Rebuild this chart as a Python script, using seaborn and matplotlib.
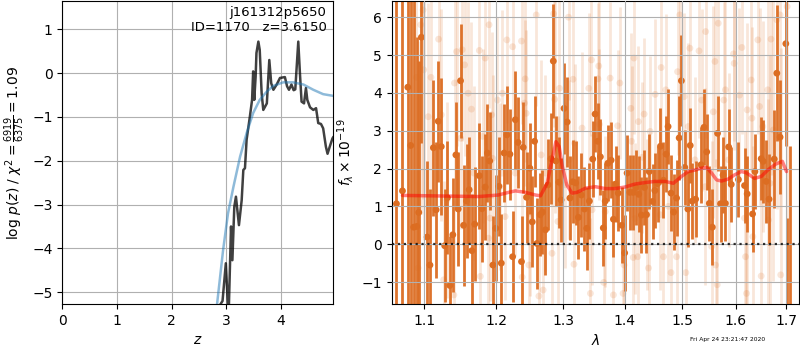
import pandas as pd
import seaborn as sns
import matplotlib.pyplot as plt
from matplotlib.ticker import FixedLocator, FixedFormatter, NullLocator

# ---- p(z) panel ----
z_chi = [2.80, 2.88, 2.93, 2.99, 3.04, 3.085, 3.11, 3.145, 3.175, 3.23, 3.28, 3.31, 3.34, 3.37,
         3.43, 3.47, 3.49, 3.51, 3.535, 3.55, 3.585, 3.61, 3.645, 3.675, 3.74, 3.785, 3.82, 3.86,
         3.92, 3.98, 4.07, 4.11, 4.145, 4.19, 4.23, 4.26, 4.315, 4.345, 4.375, 4.42, 4.455, 4.48,
         4.53, 4.59, 4.64, 4.68, 4.73, 4.77, 4.82, 4.85, 4.89, 4.94, 4.96]
logp_chi = [-7.0, -5.3, -5.2, -4.34, -5.6, -3.5, -4.27, -3.05, -2.82, -3.47, -2.9, -2.21, -2.17, -1.52,
            -0.99, -0.61, 0.04, -0.61, -0.08, 0.46, 0.72, 0.53, -0.46, -0.84, -0.69, 0.30, -0.23, -0.38,
            -0.26, -0.11, -0.09, -0.30, -0.38, -0.26, -0.39, -0.37, 0.72, 0.0, -0.65, -0.69, -0.34, -0.61,
            -0.78, -0.84, -0.80, -1.14, -1.16, -1.26, -1.68, -1.84, -1.68, -1.49, -1.45]
z_prior = [2.75, 2.83, 2.94, 3.03, 3.13, 3.25, 3.37, 3.49, 3.61, 3.74, 3.86, 4.04, 4.22, 4.41, 4.59, 4.77, 4.96]
logp_prior = [-6.5, -5.27, -4.04, -3.2, -2.59, -1.91, -1.37, -0.91, -0.61, -0.42, -0.29, -0.21, -0.21,
              -0.26, -0.38, -0.48, -0.52]

# ---- spectrum panel: binned (dark) points ----
wave_bin = [1.0641, 1.0718, 1.0787, 1.0825, 1.0864, 1.0904, 1.0930, 1.0965, 1.1041, 1.1078, 1.1124, 1.1161,
            1.1189, 1.1230, 1.1276, 1.1313, 1.1346, 1.1387, 1.1429, 1.1461, 1.1493, 1.1535, 1.1576, 1.1613,
            1.1650, 1.1691, 1.1756, 1.1793, 1.1839, 1.1871, 1.1903, 1.1949, 1.1991, 1.2035, 1.2070, 1.2111,
            1.2151, 1.2196, 1.2236, 1.2276, 1.2317, 1.2367, 1.2392, 1.2442, 1.2492, 1.2528, 1.2563, 1.2598,
            1.2648, 1.2683, 1.2729, 1.2769, 1.2814, 1.2849, 1.2889, 1.2935, 1.2970, 1.3016, 1.3065, 1.3108,
            1.3151, 1.3199, 1.3242, 1.3290, 1.3339, 1.3376, 1.3419, 1.3473, 1.3511, 1.3554, 1.3597, 1.3645,
            1.3677, 1.3720, 1.3774, 1.3812, 1.3849, 1.3892, 1.3952, 1.4000, 1.4041, 1.4087, 1.4145, 1.4192,
            1.4238, 1.4285, 1.4337, 1.4372, 1.4419, 1.4477, 1.4517, 1.4564, 1.4616, 1.4669, 1.4715, 1.4750,
            1.4802, 1.4849, 1.4901, 1.4948, 1.4988, 1.5049, 1.5105, 1.5148, 1.5185, 1.5247, 1.5346, 1.5401,
            1.5451, 1.5500, 1.5556, 1.5654, 1.5710, 1.5759, 1.5802, 1.5864, 1.5914, 1.6052, 1.6170, 1.6222,
            1.6327, 1.6373, 1.6497, 1.6536, 1.6595, 1.6654, 1.6758, 1.6810, 1.6876, 1.6993, 1.7021, 1.7073]
flux_bin = [1.07, 1.41, 4.15, 2.61, 0.45, 0.47, 0.84, 5.47, 0.19, -0.55, 2.55, 0.91,
            3.25, 2.58, -0.04, 1.23, -1.09, 0.25, 2.36, 0.93, 4.32, 0.50, 1.14, 1.44,
            -0.17, 0.53, 1.81, 0.94, 1.51, 2.41, 2.20, -0.55, 0.42, 1.53, -0.50, 2.41,
            2.89, 2.38, -0.33, 3.29, 2.69, -0.46, 2.56, 1.24, 2.01, 0.59, 2.72, 0.02,
            0.78, 0.85, 0.38, 1.57, 2.26, 4.84, 2.20, 1.64, 1.17, 3.59, 3.23, 1.22,
            1.65, 1.62, 0.71, 1.30, 0.93, 0.42, 1.14, 2.25, 3.44, 2.72, 2.31, 0.43,
            1.14, 2.14, 2.22, 0.66, 1.59, 1.35, 0.50, -0.23, 1.88, 1.37, 1.37, 1.50,
            1.32, 0.77, 1.50, 0.78, 1.92, 1.13, 1.42, 1.60, 2.59, 1.69, 2.38, 3.11,
            1.35, 0.85, 1.22, 2.81, 4.32, 2.03, 0.93, 2.61, 1.14, 1.19, 2.10, 3.09,
            2.44, 1.08, 0.45, 2.93, 1.07, 1.83, 1.08, 2.57, 1.58, 1.71, 1.55, 1.33,
            0.80, 1.92, 2.26, 2.19, 1.66, 1.19, 2.25, 4.52, 2.83, 5.30, -2.5, -2.5]
err_bin = [7.0, 7.0, 7.0, 6.0, 6.0, 5.0, 4.0, 2.8, 2.0, 2.0, 1.8, 1.8,
           1.6, 1.8, 1.5, 1.5, 1.3, 1.5, 1.4, 1.5, 1.5, 1.6, 1.5, 1.4,
           1.5, 1.5, 1.4, 1.4, 1.4, 1.3, 1.3, 1.3, 1.4, 1.3, 1.3, 1.3,
           1.3, 1.2, 1.2, 1.3, 1.2, 1.2, 1.2, 1.2, 1.2, 1.2, 1.2, 1.2,
           1.1, 1.1, 1.2, 1.2, 1.2, 1.5, 1.2, 1.2, 1.1, 1.2, 1.2, 1.1,
           1.1, 1.1, 1.1, 1.1, 1.1, 1.1, 1.0, 1.0, 1.0, 1.0, 1.0, 1.0,
           1.0, 1.0, 1.0, 1.0, 1.0, 1.0, 1.0, 1.0, 1.0, 1.0, 1.0, 1.0,
           1.0, 1.0, 1.0, 1.0, 1.0, 1.0, 1.0, 1.0, 1.0, 1.0, 1.0, 1.0,
           1.0, 1.0, 1.0, 1.1, 1.2, 1.0, 1.0, 1.0, 1.0, 1.0, 1.0, 1.0,
           1.0, 1.0, 1.0, 1.0, 1.0, 1.0, 1.0, 1.0, 1.0, 1.0, 1.0, 1.0,
           1.0, 1.0, 1.1, 1.1, 1.1, 1.2, 1.3, 1.8, 1.5, 2.7, 3.2, 5.1]

# ---- spectrum panel: unbinned (faint) points ----
wave_raw = [1.0899, 1.0921, 1.0956, 1.0987, 1.0995, 1.1055, 1.1092, 1.1194, 1.1230, 1.1263, 1.1309, 1.1401,
            1.1410, 1.1438, 1.1493, 1.1516, 1.1549, 1.1599, 1.1645, 1.1678, 1.1756, 1.1770, 1.1802, 1.1839,
            1.1885, 1.1894, 1.1908, 1.1931, 1.1945, 1.2015, 1.2050, 1.2085, 1.2126, 1.2151, 1.2236, 1.2276,
            1.2367, 1.2377, 1.2412, 1.2422, 1.2437, 1.2477, 1.2487, 1.2588, 1.2628, 1.2663, 1.2693, 1.2729,
            1.2829, 1.2854, 1.2869, 1.2920, 1.2945, 1.3032, 1.3086, 1.3097, 1.3156, 1.3172, 1.3183, 1.3301,
            1.3409, 1.3435, 1.3452, 1.3462, 1.3559, 1.3570, 1.3581, 1.3651, 1.3677, 1.3758, 1.3812, 1.3882,
            1.3919, 1.3973, 1.3989, 1.4105, 1.4116, 1.4145, 1.4157, 1.4174, 1.4221, 1.4233, 1.4302, 1.4331,
            1.4378, 1.4407, 1.4436, 1.4523, 1.4610, 1.4628, 1.4669, 1.4709, 1.4756, 1.4802, 1.4901, 1.4919,
            1.4959, 1.5037, 1.5068, 1.5111, 1.5142, 1.5235, 1.5309, 1.5358, 1.5420, 1.5432, 1.5543, 1.5574,
            1.5605, 1.5617, 1.5648, 1.5667, 1.5772, 1.5802, 1.5864, 1.5957, 1.5969, 1.6072, 1.6118, 1.6170,
            1.6190, 1.6209, 1.6222, 1.6301, 1.6314, 1.6333, 1.6431, 1.6464, 1.6497, 1.6529, 1.6627, 1.6641,
            1.6673, 1.6693, 1.6739, 1.6810, 1.6876, 1.6889, 1.7020]
flux_raw = [4.41, -0.63, 5.80, 6.19, 4.61, 3.37, 4.41, 5.42, 3.42, -0.94, 1.17, -1.34,
            4.26, 5.09, 2.80, 5.14, 4.74, 3.99, 3.57, 1.88, 5.12, -0.85, 2.85, 4.92,
            0.16, 5.80, 0.69, 3.42, 2.27, 3.81, 1.52, 3.99, 0.73, 5.40, 5.22, 1.88,
            5.37, -0.87, 3.73, 4.37, 3.46, -0.55, 0.82, 6.06, -1.37, 2.36, -1.21, 1.88,
            -0.24, 6.09, 3.83, 0.60, 4.12, 1.57, 6.00, 2.23, 4.36, -0.53, 2.67, 3.07,
            4.12, -1.30, 4.87, 0.91, 4.37, 4.71, 3.17, -1.01, 0.86, 4.39, -1.34, 3.13,
            4.26, -1.30, -0.55, 3.59, 2.72, -0.35, 4.92, 0.68, -0.33, 3.24, 2.30, 3.44,
            0.78, -0.63, 2.98, 3.96, 0.78, 4.67, -0.33, 4.08, 1.00, -0.75, -0.33, 4.56,
            6.06, 3.90, -0.75, 3.11, 5.18, 2.23, 5.11, 3.81, 1.52, 5.62, -0.06, 3.50,
            4.83, -0.55, -1.07, 5.84, 3.81, 4.08, 2.23, 5.03, 4.78, 3.94, 5.20, 0.69,
            -0.33, -1.30, 3.55, 4.34, 3.33, 0.20, 5.40, 3.64, -0.84, 3.11, 4.08, 0.64,
            1.61, 5.42, 3.02, 5.93, 6.06, -0.81, 6.28]
err_raw = [6.0, 6.0, 5.0, 5.0, 4.5, 3.0, 3.0, 2.8, 2.8, 2.6, 2.6, 2.5,
           2.5, 2.5, 2.4, 2.4, 2.4, 2.4, 2.3, 2.3, 2.3, 2.3, 2.3, 2.3,
           2.2, 2.2, 2.2, 2.2, 2.2, 2.2, 2.2, 2.2, 2.2, 2.2, 2.2, 2.2,
           2.2, 2.2, 2.2, 2.2, 2.2, 2.2, 2.2, 2.4, 2.4, 2.5, 2.5, 2.6,
           2.8, 3.0, 3.0, 2.8, 2.6, 2.2, 2.2, 2.1, 2.1, 2.1, 2.1, 2.0,
           2.0, 2.0, 2.0, 2.0, 2.0, 2.0, 2.0, 2.0, 2.0, 2.0, 2.0, 2.0,
           2.0, 2.0, 2.0, 2.0, 2.0, 2.0, 2.0, 2.0, 2.0, 2.0, 2.0, 2.0,
           2.0, 2.0, 2.0, 2.0, 2.0, 2.0, 2.0, 2.0, 2.0, 2.0, 2.1, 2.2,
           2.4, 2.2, 2.2, 2.2, 2.2, 2.2, 2.3, 2.4, 2.6, 2.8, 2.8, 2.8,
           2.8, 2.8, 2.8, 2.8, 2.6, 2.4, 2.3, 2.3, 2.3, 2.3, 2.3, 2.3,
           2.3, 2.3, 2.3, 2.4, 2.4, 2.4, 2.5, 2.6, 2.6, 2.8, 3.0, 3.2,
           3.4, 3.6, 4.0, 5.0, 6.0, 6.0, 7.0]

# ---- best-fit model ----
wave_model = [1.0718, 1.1747, 1.2025, 1.2176, 1.2276, 1.2427, 1.2578, 1.2653, 1.2754, 1.2829, 1.2889,
              1.2940, 1.2990, 1.3059, 1.3140, 1.3220, 1.3355, 1.3516, 1.3677, 1.3839, 1.4000, 1.4174,
              1.4349, 1.4523, 1.4698, 1.4843, 1.4988, 1.5111, 1.5235, 1.5358, 1.5451, 1.5543, 1.5636,
              1.5728, 1.5852, 1.5975, 1.6105, 1.6203, 1.6366, 1.6497, 1.6627, 1.6791, 1.6922, 1.7007]
flux_model = [1.29, 1.26, 1.30, 1.37, 1.41, 1.37, 1.30, 1.28, 1.61, 2.23, 2.71,
              2.58, 2.05, 1.57, 1.35, 1.37, 1.48, 1.52, 1.47, 1.47, 1.51, 1.59,
              1.63, 1.66, 1.66, 1.61, 1.79, 1.92, 1.96, 2.01, 2.03, 1.88, 1.70,
              1.67, 1.72, 1.83, 1.92, 1.89, 1.74, 1.79, 1.96, 2.12, 2.19, 1.92]

wave_ticks = [1.1, 1.2, 1.3, 1.4, 1.5, 1.6, 1.7]
field_name = "j161312p5650"
obj_id = 1170
z_best = 3.6150
timestamp = "Fri Apr 24 23:21:47 2020"

sns.set_style("ticks", {"axes.grid": True, "grid.color": "#b0b0b0", "axes.edgecolor": "black",
                        "xtick.color": "black", "ytick.color": "black", "text.color": "black",
                        "axes.labelcolor": "black"})
plt.rcParams['font.family'] = ['DejaVu Sans']
plt.rcParams['xtick.major.size'] = 3.5
plt.rcParams['ytick.major.size'] = 3.5
plt.rcParams['grid.linewidth'] = 0.8

grism_color = "#dc6d22"

fig = plt.figure(figsize=(8, 3.5), dpi=100)

"""p(z)"""
ax1 = fig.add_axes([0.0779, 0.1314, 0.3387, 0.8649])
pz = pd.DataFrame({"z": z_chi, "logp": logp_chi})
prior = pd.DataFrame({"z": z_prior, "logp": logp_prior})
sns.lineplot(data=pz, x="z", y="logp", ax=ax1, color="k", alpha=0.75, lw=1.8,
             sort=False, estimator=None)
sns.lineplot(data=prior, x="z", y="logp", ax=ax1, color="tab:blue", alpha=0.5, lw=1.8,
             sort=False, estimator=None)
ax1.set_xlim(0, 4.955)
ax1.set_ylim(-5.27, 1.64)
ax1.set_xticks([0, 1, 2, 3, 4])
ax1.set_yticks([-5, -4, -3, -2, -1, 0, 1])
ax1.set_xlabel(r"$z$")
ax1.set_ylabel(r"log $p(z)$ / $\chi^2=\frac{6919}{6375}=1.09$")
ax1.text(0.975, 0.985, "{0}\nID={1}   z={2:.4f}".format(field_name, obj_id, z_best),
         transform=ax1.transAxes, ha="right", va="top", fontsize=9.5)
ax1.grid(True)

"""spectrum"""
ax2 = fig.add_axes([0.4896, 0.1314, 0.5095, 0.8649])
ax2.set_xscale("log")
ax2.errorbar(wave_raw, flux_raw, yerr=err_raw, fmt="none", ecolor=grism_color, elinewidth=2.0,
             alpha=0.17, zorder=1)
sns.scatterplot(x=wave_raw, y=flux_raw, ax=ax2, color=grism_color, alpha=0.17, s=24,
                edgecolor="none", zorder=1)
ax2.errorbar(wave_bin, flux_bin, yerr=err_bin, fmt="none", ecolor=grism_color, elinewidth=2.0,
             alpha=0.95, zorder=2)
sns.scatterplot(x=wave_bin, y=flux_bin, ax=ax2, color=grism_color, s=24, edgecolor="none", zorder=2)
model = pd.DataFrame({"wave": wave_model, "flux": flux_model})
sns.lineplot(data=model, x="wave", y="flux", ax=ax2, color="r", alpha=0.5, lw=2.5,
             sort=False, estimator=None, zorder=4)
ax2.axhline(0, color="k", ls=":", lw=1.6, alpha=0.8, zorder=5)
ax2.set_xlim(1.058, 1.727)
ax2.set_ylim(-1.58, 6.42)
ax2.xaxis.set_major_locator(FixedLocator(wave_ticks))
ax2.xaxis.set_major_formatter(FixedFormatter(["{0:.1f}".format(w) for w in wave_ticks]))
ax2.xaxis.set_minor_locator(NullLocator())
ax2.set_yticks([-1, 0, 1, 2, 3, 4, 5, 6])
ax2.set_xlabel(r"$\lambda$")
ax2.set_ylabel(r"$f_\lambda\times10^{-19}$")
ax2.grid(True)
ax2.set_axisbelow(False)

fig.text(0.956, 0.029, timestamp, ha="right", va="center", fontsize=4.3)

plt.savefig("out.png", dpi=100)
